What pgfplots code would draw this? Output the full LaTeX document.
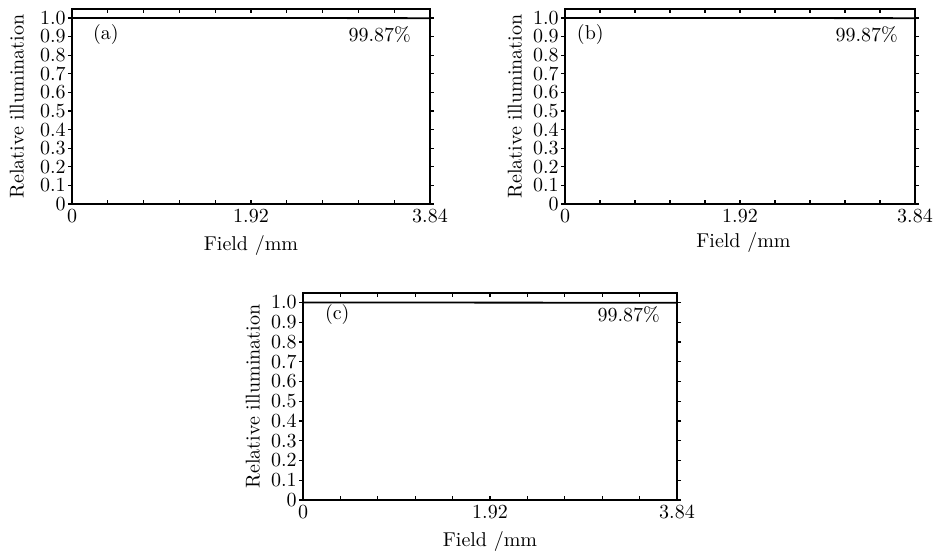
\documentclass[border=0pt]{standalone}
\usepackage{pgfplots}
\pgfplotsset{compat=1.18}
\pgfplotsset{
  base/.style={
    scale only axis,
    xmin=0, xmax=3.84, ymin=0, ymax=1.048,
    axis line style={line width=0.7pt},
    every tick/.style={black, line width=0.6pt},
    major tick length=2pt, minor tick length=2pt,
  },
  xpart/.style={base,
    tick align=inside,
    xtick={0,1.92,3.84},
    xticklabels={0,1.92,3.84},
    minor xtick={0.384,0.768,1.152,1.536,2.304,2.688,3.072,3.456},
    ytick=\empty,
    xtick pos=both,
    xticklabel style={yshift=1pt},
  },
  ypart/.style={base,
    tick align=outside,
    hide x axis,
    axis y line*=box,
    ytick={0,0.1,0.2,0.3,0.4,0.5,0.6,0.7,0.8,0.9,1.0},
    yticklabels={0,0.1,0.2,0.3,0.4,0.5,0.6,0.7,0.8,0.9,1.0},
    ytick pos=both,
    yticklabel pos=left,
    yticklabel style={inner xsep=1pt},
    ylabel={Relative illumination},
  },
}
\begin{document}
\begin{tikzpicture}
\useasboundingbox (0,0) rectangle (469pt,276pt);
% ---------- (a)
\begin{axis}[xpart, at={(36pt,271.5pt)}, anchor=north west, width=179pt, height=97.5pt,
  xlabel={Field /mm}, xlabel style={at={(axis description cs:0.5,-0.215)},anchor=center}]
\addplot[black, line width=0.9pt] coordinates {(0,1.0) (0.96,0.9998) (1.92,0.9995) (2.88,0.9991) (3.84,0.9987)};
\node[anchor=west] at (rel axis cs:0.039,0.869) {(a)};
\node[anchor=east] at (rel axis cs:0.966,0.869) {99.87\%};
\end{axis}
\begin{axis}[ypart, at={(36pt,271.5pt)}, anchor=north west, width=179pt, height=97.5pt,
  ylabel style={at={(axis description cs:-0.154,0.5)},anchor=center}]
\addplot[draw=none] coordinates {(0,0)};
\end{axis}
% ---------- (b)
\begin{axis}[xpart, at={(282.5pt,271.5pt)}, anchor=north west, width=175pt, height=97.5pt,
  xlabel={Field /mm}, xlabel style={at={(axis description cs:0.51,-0.195)},anchor=center}]
\addplot[black, line width=0.9pt] coordinates {(0,1.0) (0.96,0.9998) (1.92,0.9995) (2.88,0.9991) (3.84,0.9987)};
\node[anchor=west] at (rel axis cs:0.014,0.87) {(b)};
\node[anchor=east] at (rel axis cs:0.971,0.87) {99.87\%};
\end{axis}
\begin{axis}[ypart, at={(282.5pt,271.5pt)}, anchor=north west, width=175pt, height=97.5pt,
  ylabel style={at={(axis description cs:-0.143,0.5)},anchor=center}]
\addplot[draw=none] coordinates {(0,0)};
\end{axis}
% ---------- (c)
\begin{axis}[xpart, at={(151.5pt,129.5pt)}, anchor=north west, width=187pt, height=103.5pt,
  xlabel={Field /mm}, xlabel style={at={(axis description cs:0.5,-0.2)},anchor=center}]
\addplot[black, line width=0.9pt] coordinates {(0,1.0) (0.96,0.9998) (1.92,0.9993) (2.88,0.9990) (3.84,0.9987)};
\node[anchor=west] at (rel axis cs:0.04,0.894) {(c)};
\node[anchor=east] at (rel axis cs:0.973,0.894) {99.87\%};
\end{axis}
\begin{axis}[ypart, at={(151.5pt,129.5pt)}, anchor=north west, width=187pt, height=103.5pt,
  ylabel style={at={(axis description cs:-0.134,0.5)},anchor=center}]
\addplot[draw=none] coordinates {(0,0)};
\end{axis}
\end{tikzpicture}
\end{document}
